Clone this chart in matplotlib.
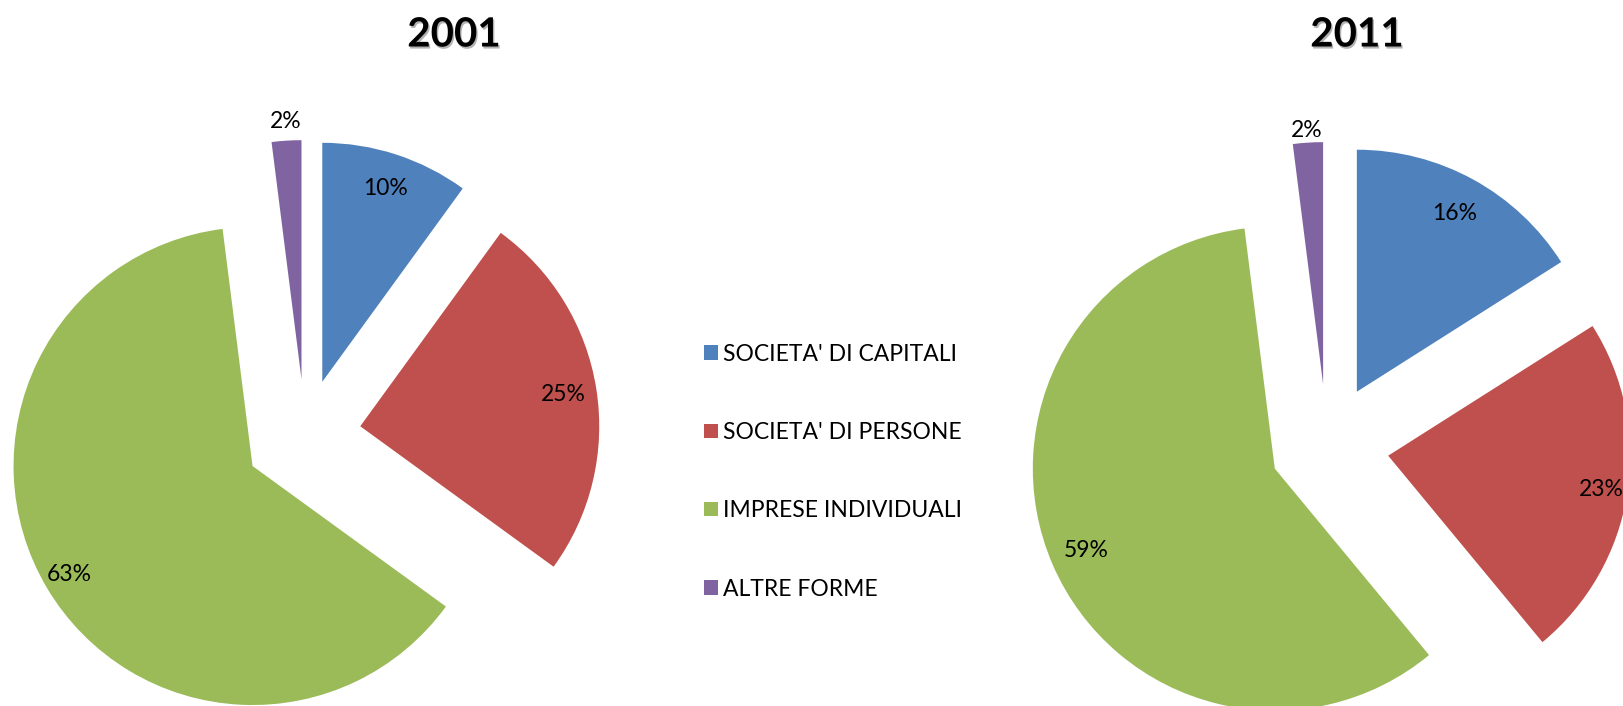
import numpy as np
import matplotlib
matplotlib.use("Agg")
import matplotlib.pyplot as plt
import matplotlib.patheffects as pe
from matplotlib.patches import Patch

plt.rcParams['font.family'] = ['Lato', 'DejaVu Sans']

categories = ["SOCIETA' DI CAPITALI", "SOCIETA' DI PERSONE", "IMPRESE INDIVIDUALI", "ALTRE FORME"]
years = ["2001", "2011"]
share_2001 = [10, 25, 63, 2]
share_2011 = [16, 23, 59, 2]
colors = ["#4F81BD", "#C0504D", "#9BBB59", "#8064A2"]

W, H = 1624, 706
fig = plt.figure(figsize=(W / 100, H / 100), dpi=100)

# pie layout in pixels: centre x, centre y (from top), radius, explode, label distances, title pos
layouts = [
    dict(cx=305, cy=435, r=239, expl=[0.234, 0.234, 0.255, 0.234],
         dist=[0.85, 0.86, 0.89, 1.08], tx=454, ty=35),
    dict(cx=1327, cy=446, r=242, expl=[0.256, 0.256, 0.235, 0.256],
         dist=[0.84, 0.89, 0.85, 1.05], tx=1357, ty=35),
]

for year, vals, lay in zip(years, [share_2001, share_2011], layouts):
    ax = fig.add_axes([0, 0, 1, 1])
    ax.patch.set_alpha(0)
    r = lay['r']
    wedges, _ = ax.pie(vals, colors=colors, startangle=90, counterclock=False,
                       explode=lay['expl'], radius=1,
                       wedgeprops=dict(linewidth=0))
    ax.set_xlim(-lay['cx'] / r, (W - lay['cx']) / r)
    ax.set_ylim(-(H - lay['cy']) / r, lay['cy'] / r)
    ax.set_aspect('equal')
    ax.axis('off')
    for w, v, d in zip(wedges, vals, lay['dist']):
        th = np.deg2rad((w.theta1 + w.theta2) / 2)
        x = w.center[0] + d * w.r * np.cos(th)
        y = w.center[1] + d * w.r * np.sin(th)
        ax.text(x, y, f"{v}%", ha='center', va='center', fontsize=16.5, color='black')
    ax.text((lay['tx'] - lay['cx']) / r, (lay['cy'] - lay['ty']) / r, year,
            ha='center', va='center', fontsize=29, fontweight='bold',
            path_effects=[pe.withSimplePatchShadow(offset=(1, -1.5), shadow_rgbFace='0.5', alpha=0.6)])

handles = [Patch(facecolor=c, edgecolor='none') for c in colors]
fig.legend(handles, categories, loc='center left', bbox_to_anchor=(0.4265, 0.332),
           frameon=False, fontsize=16.5, handlelength=0.6, handleheight=0.6,
           handletextpad=0.22, labelspacing=2.5, borderpad=0)

fig.savefig("out.png", dpi=100)
